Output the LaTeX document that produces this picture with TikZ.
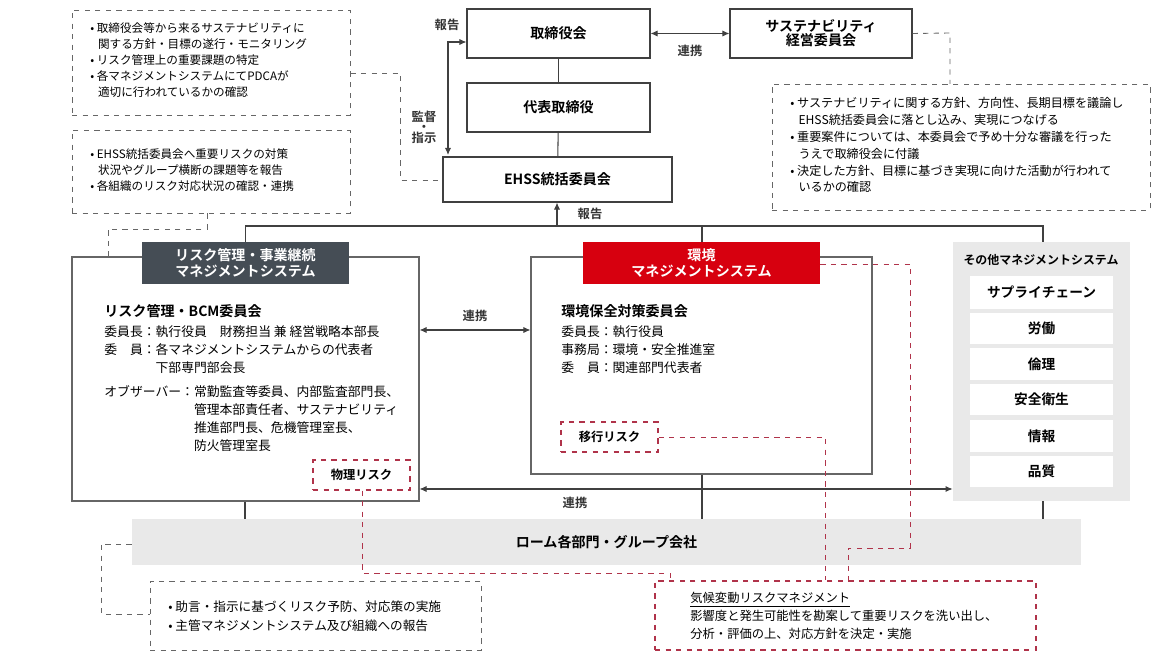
\documentclass[tikz,border=0pt]{standalone}
\usepackage{fontspec}
\setmainfont{Noto Sans CJK JP}[BoldFont={Noto Sans CJK JP Bold}]
\usetikzlibrary{fit,arrows.meta}
\definecolor{dk}{HTML}{454D55}
\definecolor{rd}{HTML}{D7000F}
\definecolor{bar}{HTML}{E9E9E9}
\definecolor{dred}{HTML}{B0334A}
\begin{document}
\begin{tikzpicture}[x=0.02cm,y=-0.02cm,
  box/.style={draw=black!75,line width=0.6pt,inner sep=0pt},
  t8/.style={font=\fontsize{8}{10}\selectfont\bfseries,align=center,inner sep=0pt},
  dbox/.style={draw=black!60,dashed,line width=0.5pt,inner sep=0pt},
  rbox/.style={draw=dred,dashed,line width=0.6pt,inner sep=0pt},
  conn/.style={draw=black!75,line width=0.6pt},
  dl/.style={draw=black!60,dashed,line width=0.5pt},
  rl/.style={draw=dred,dashed,line width=0.5pt},
  arr/.style={conn,{Latex[length=4pt,width=3.5pt]}-{Latex[length=4pt,width=3.5pt]}},
  lab/.style={font=\fontsize{7}{9}\selectfont\bfseries,text=black!80},
  sm/.style={font=\fontsize{6.6}{9.1}\selectfont,align=left,anchor=north west,inner sep=0pt},
  body/.style={font=\fontsize{7.3}{10.3}\selectfont,align=left,anchor=north west,inner sep=0pt},
]
\useasboundingbox (0,0) rectangle (1170,658);
% top boxes
\node[box,fit={(467,9)(650,58)}] (tori) {};
\node[t8] at (tori.center) {取締役会};
\node[box,fit={(730,9)(912,58)}] (sus) {};
\node[t8] at (sus.center) {サステナビリティ\\[-2pt]経営委員会};
\node[box,fit={(467,83)(650,132)}] (dai) {};
\node[t8] at (dai.center) {代表取締役};
\node[box,fit={(443,157)(672,202)}] (ehss) {};
\node[t8] at (ehss.center) {EHSS統括委員会};
\draw[conn] (tori) -- (dai); \draw[conn] (dai) -- (ehss);
\draw[arr] (tori.east) -- (sus.west) node[midway,below=3pt,lab]{連携};
\coordinate (kt) at (448,42);
\coordinate (kb) at (448,155);
\draw[arr] (tori.west|-kt) -- (kt) -- (kb);
\node[lab] at (447,25) {報告};
\node[lab,align=center] at (424,127) {監督\\[-3pt]・\\[-3pt]指示};
% dashed notes
\node[dbox,fit={(72,10)(350,115)}] (n1) {};
\node[sm] at (90,22) {•\ 取締役会等から来るサステナビリティに\\\ \ \ 関する方針・目標の遂行・モニタリング\\•\ リスク管理上の重要課題の特定\\•\ 各マネジメントシステムにてPDCAが\\\ \ \ 適切に行われているかの確認};
\node[dbox,fit={(72,130)(350,213)}] (n2) {};
\node[sm] at (90,148) {•\ EHSS統括委員会へ重要リスクの対策\\\ \ \ 状況やグループ横断の課題等を報告\\•\ 各組織のリスク対応状況の確認・連携};
\node[dbox,fit={(772,84)(1150,210)}] (n3) {};
\node[sm,font=\fontsize{6.9}{9.6}\selectfont] at (790,97) {•\ サステナビリティに関する方針、方向性、長期目標を議論し\\\ \ \ EHSS統括委員会に落とし込み、実現につなげる\\•\ 重要案件については、本委員会で予め十分な審議を行った\\\ \ \ うえで取締役会に付議\\•\ 決定した方針、目標に基づき実現に向けた活動が行われて\\\ \ \ いるかの確認};
\draw[dl] (n1.east|-0,73) -- (400,73) -- (400,180) -- (ehss.west|-0,180);
\draw[dl] (sus.east) -- (950,33) -- (950,84);
% management systems
\node[draw=black!60,line width=0.6pt,fit={(72,257)(419,501)},inner sep=0pt] (rm) {};
\node[fill=dk,fit={(142,242)(349,284)},inner sep=0pt] (rml) {};
\node[t8,text=white] at (rml.center) {リスク管理・事業継続\\[-1pt]マネジメントシステム};
\node[draw=black!60,line width=0.6pt,fit={(531,257)(872,474)},inner sep=0pt] (env) {};
\node[fill=rd,fit={(583,242)(820,284)},inner sep=0pt] (envl) {};
\node[t8,text=white] at (envl.center) {環境\\[-1pt]マネジメントシステム};
\node[fill=bar,fit={(953,242)(1130,501)},inner sep=0pt] (oth) {};
\node[font=\fontsize{6.8}{8}\selectfont\bfseries] at (1041,260) {その他マネジメントシステム};
\foreach \t/\a/\b [count=\i] in {サプライチェーン/276/309,労働/313/344,倫理/348/380,安全衛生/384/415,情報/420/452,品質/456/487}{
  \node[fill=white,fit={(970,\a)(1113,\b)},inner sep=0pt] (o\i) {};
  \node[inner sep=0pt,font=\fontsize{7.8}{9}\selectfont\bfseries] at (o\i.center) {\t};}
% tree
\coordinate (hl) at (245,226); \coordinate (hr) at (1043,226);
\draw[conn] (rml.north|-hl) -- (rml.north);
\draw[conn] (hl) -- (hr) -- (oth.north-|hr);
\draw[conn] (envl.north-|702,0) -- (702,226);
\draw[conn,-{Latex[length=4pt,width=3.5pt]}] (557,226) -- (ehss.south-|557,0);
\node[lab] at (590,214) {報告};
\draw[dl] (n2.south-|207,0) -- (207,229) -- (108,229) -- (rm.north-|108,0);
% content
\node[anchor=west,inner sep=0pt,font=\fontsize{8}{9}\selectfont\bfseries] at (104,311) {リスク管理・BCM委員会};
\node[body] at (104,325) {委員長：執行役員\quad 財務担当 兼 経営戦略本部長\\委\quad 員：各マネジメントシステムからの代表者\\\phantom{委員長：}下部専門部会長};
\node[body] at (104,383) {\begin{tabular}{@{}l@{}l@{}}オブザーバー：&常勤監査等委員、内部監査部門長、\\&管理本部責任者、サステナビリティ\\&推進部門長、危機管理室長、\\&防火管理室長\end{tabular}};
\node[anchor=west,inner sep=0pt,font=\fontsize{8}{9}\selectfont\bfseries] at (561,311) {環境保全対策委員会};
\node[body] at (561,325) {委員長：執行役員\\事務局：環境・安全推進室\\委\quad 員：関連部門代表者};
\node[rbox,fit={(313,460)(410,490)}] (phys) {};
\node[lab,text=black] at (phys.center) {物理リスク};
\node[rbox,fit={(561,422)(658,452)}] (ikou) {};
\node[lab,text=black] at (ikou.center) {移行リスク};
\draw[arr] (rm.east|-0,330) -- (env.west|-0,330);
\node[lab] at (475,316) {連携};
\draw[arr] (rm.east|-0,489) -- (oth.west|-0,489);
\node[lab] at (575,503) {連携};
% bottom bar
\node[fill=bar,fit={(132,519)(1081,565)},inner sep=0pt] (rohm) {};
\node[t8] at (rohm.center) {ローム各部門・グループ会社};
\draw[conn] (rm.south-|245,0) -- (rohm.north-|245,0);
\draw[conn] (env.south-|702,0) -- (rohm.north-|702,0);
\draw[conn] (oth.south-|1043,0) -- (rohm.north-|1043,0);
\node[dbox,fit={(150,581)(481,650)}] (n4) {};
\node[sm,font=\fontsize{7.2}{11}\selectfont] at (168,600) {•\ 助言・指示に基づくリスク予防、対応策の実施\\•\ 主管マネジメントシステム及び組織への報告};
\draw[dl] (rohm.west|-0,544) -- (101,544) -- (101,614) -- (n4.west|-0,614);
\node[rbox,fit={(655,581)(1036,650)}] (clim) {};
\node[sm,font=\fontsize{7}{10.3}\selectfont] at (690,592) {\underline{気候変動リスクマネジメント}\\影響度と発生可能性を勘案して重要リスクを洗い出し、\\分析・評価の上、対応方針を決定・実施};
\draw[rl] (phys.south-|362,0) -- (362,573) -- (670,573) -- (clim.north-|670,0);
\draw[rl] (ikou.east|-0,437) -- (825,437) -- (clim.north-|825,0);
\draw[rl] (envl.east|-0,264) -- (910,264) -- (910,548) -- (848,548) -- (clim.north-|848,0);
\end{tikzpicture}
\end{document}
